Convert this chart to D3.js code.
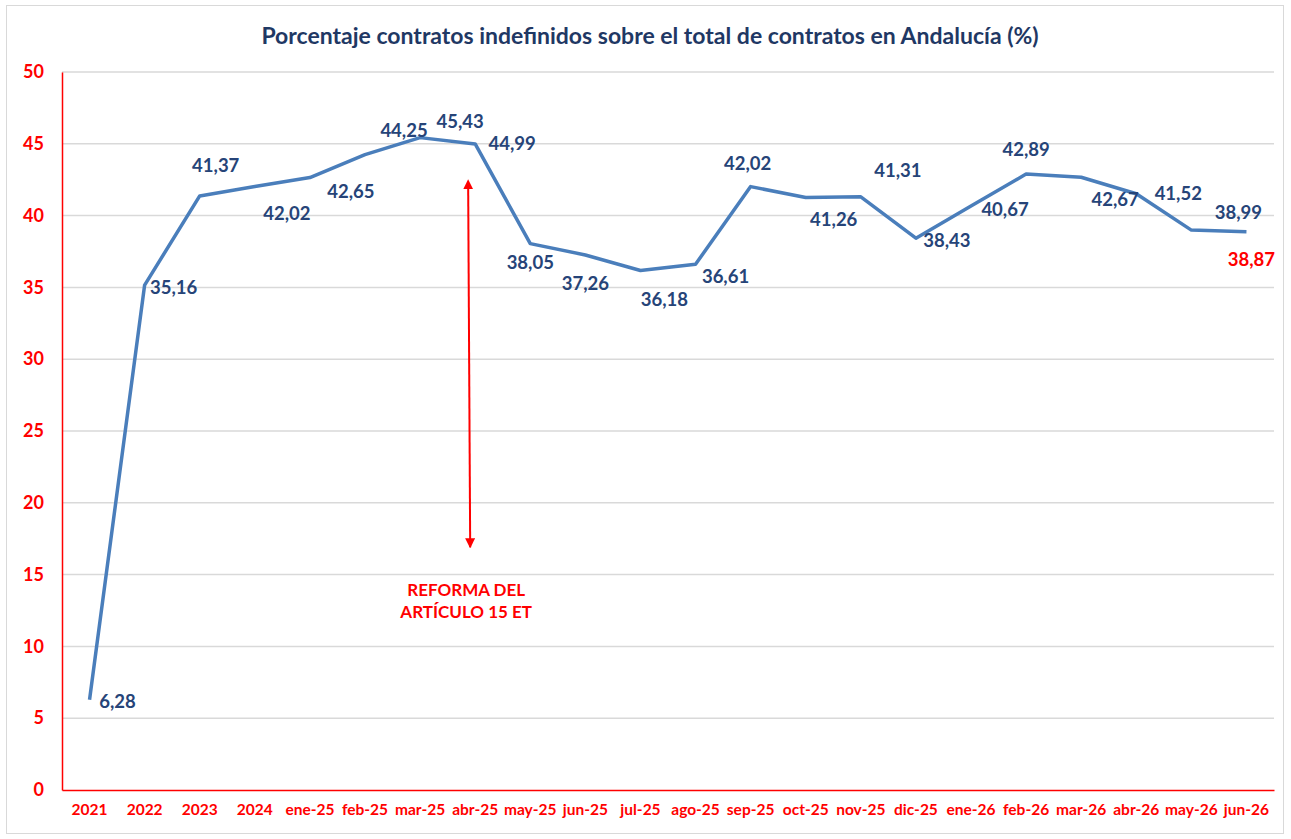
<!DOCTYPE html>
<html><head><meta charset="utf-8">
<script src="https://cdn.jsdelivr.net/npm/d3@7"></script>
<style>body{margin:0;background:#fff;}svg{display:block;font-family:Lato,"Open Sans",sans-serif;}</style>
</head><body>
<svg id="c" width="1291" height="839"></svg>
<script>
const categories = ["2021","2022","2023","2024","ene-25","feb-25","mar-25","abr-25","may-25","jun-25","jul-25","ago-25","sep-25","oct-25","nov-25","dic-25","ene-26","feb-26","mar-26","abr-26","may-26","jun-26"];
const values = [6.28,35.16,41.37,42.02,42.65,44.25,45.43,44.99,38.05,37.26,36.18,36.61,42.02,41.26,41.31,38.43,40.67,42.89,42.67,41.52,38.99,38.87];
const yTicks = [0,5,10,15,20,25,30,35,40,45,50];
const title = "Porcentaje contratos indefinidos sobre el total de contratos en Andalucía (%)";
const annotation = ["REFORMA DEL","ARTÍCULO 15 ET"];
const annotationCategory = "abr-25";

// label placement offsets (dx, dy) relative to point
const labelOffsets = [[28,2],[29,2],[16,-30],[32,27],[41,14],[39,-24],[40,-16],[37,0],[0,19],[0,29],[24,29],[30,12],[-3,-23],[28,22],[37,-26],[31,2],[34,4],[0,-25],[34,22],[42,0],[47,-18],[5,28]];

const svg = d3.select("#c");
const m = {l:62, r:1274, t:72, b:790};
svg.append("rect").attr("x",6.5).attr("y",5.5).attr("width",1277).attr("height",828).attr("fill","#fff").attr("stroke","#d9d9d9");

const x = d3.scaleBand().domain(categories).range([m.l,m.r]);
const y = d3.scaleLinear().domain([0,50]).range([m.b,m.t]);

svg.append("text").attr("x",650).attr("y",44).attr("text-anchor","middle")
  .attr("font-size",23).attr("font-weight","bold").attr("fill","#1f3864").text(title);

// gridlines
svg.append("g").selectAll("line").data(yTicks.filter(d=>d>0)).join("line")
  .attr("x1",m.l).attr("x2",m.r).attr("y1",d=>y(d)).attr("y2",d=>y(d))
  .attr("stroke","#d9d9d9").attr("stroke-width",1.5);

// y axis
const ya = svg.append("g").attr("transform",`translate(${m.l},0)`).call(d3.axisLeft(y).tickValues(yTicks).tickSize(0).tickPadding(18));
ya.select(".domain").attr("stroke","#ff0000").attr("stroke-width",1.5);
ya.selectAll("text").attr("fill","#ff0000").attr("font-size",18).attr("font-weight","bold").attr("font-family","Lato,sans-serif");

// x axis
const xa = svg.append("g").attr("transform",`translate(0,${m.b})`).call(d3.axisBottom(x).tickSize(0).tickPadding(14));
xa.select(".domain").attr("stroke","#ff0000").attr("stroke-width",1.5);
xa.selectAll("text").attr("fill","#ff0000").attr("font-size",15.5).attr("font-weight","bold").attr("font-family","Lato,sans-serif");

// line
const line = d3.line().x((d,i)=>x(categories[i])+x.bandwidth()/2).y(d=>y(d));
svg.append("path").datum(values).attr("d",line).attr("fill","none")
  .attr("stroke","#4a7ebb").attr("stroke-width",3.5).attr("stroke-linejoin","round");

// labels
svg.append("g").selectAll("text").data(values).join("text")
  .attr("x",(d,i)=>x(categories[i])+x.bandwidth()/2+labelOffsets[i][0])
  .attr("y",(d,i)=>y(d)+labelOffsets[i][1])
  .attr("dy","0.35em").attr("text-anchor","middle")
  .attr("font-size",18.5).attr("font-weight","bold")
  .attr("fill",(d,i)=>i===values.length-1?"#ff0000":"#264478")
  .text(d=>d.toFixed(2).replace(".",","));

// annotation arrow
const ax = x(annotationCategory)+x.bandwidth()/2-6;
const defs = svg.append("defs");
["s","e"].forEach(k=>{
  defs.append("marker").attr("id","ar"+k).attr("viewBox","0 0 10 10").attr("refX",k==="e"?9:1).attr("refY",5)
   .attr("markerWidth",5).attr("markerHeight",5).attr("orient","auto-start-reverse")
   .append("path").attr("d","M0,0L10,5L0,10z").attr("fill","#ff0000");
});
svg.append("line").attr("x1",ax-1).attr("x2",ax+1).attr("y1",y(41.9)).attr("y2",y(16.9))
  .attr("stroke","#ff0000").attr("stroke-width",2)
  .attr("marker-start","url(#ars)").attr("marker-end","url(#are)");
svg.append("g").selectAll("text").data(annotation).join("text")
  .attr("x",ax-3).attr("y",(d,i)=>596+i*22).attr("text-anchor","middle")
  .attr("font-size",17).attr("font-weight","bold").attr("fill","#ff0000").text(d=>d);
</script>
</body></html>
